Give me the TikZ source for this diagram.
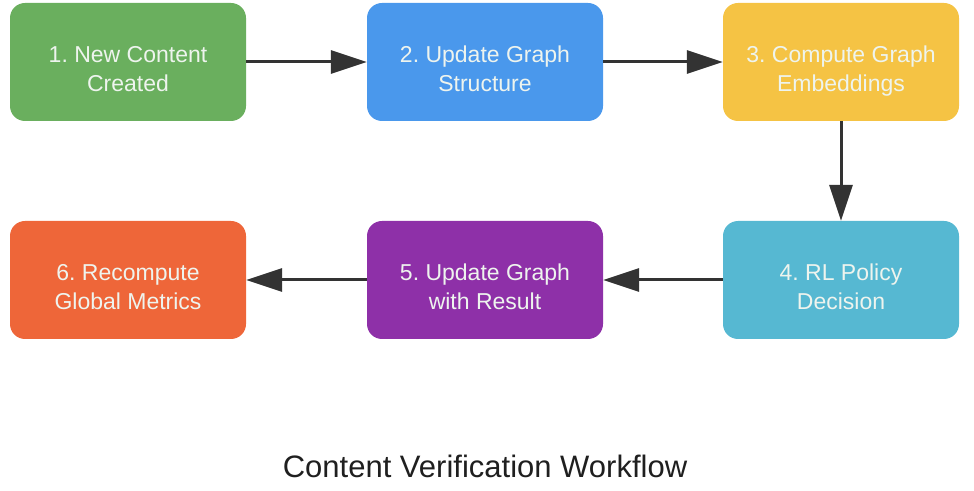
\documentclass[tikz,border=0pt]{standalone}
\usepackage{fontspec}
\setmainfont{Liberation Sans}
\usetikzlibrary{arrows.meta}
\frenchspacing
\definecolor{cgreen}{HTML}{6AAF5E}
\definecolor{cblue}{HTML}{4A98EC}
\definecolor{cyellow}{HTML}{F5C344}
\definecolor{ccyan}{HTML}{56B8D2}
\definecolor{cpurple}{HTML}{8E30A8}
\definecolor{corange}{HTML}{EE6639}
\definecolor{carrow}{HTML}{333333}
\definecolor{ctext}{HTML}{EEF4EE}
\begin{document}
\begin{tikzpicture}[x=1pt,y=1pt,
  stepbox/.style={rectangle, rounded corners=15pt, minimum width=236pt, minimum height=118pt, inner sep=0pt, draw=none},
  steplabel/.style={text=ctext, align=center, font=\fontsize{23}{29}\selectfont, inner sep=0pt,
    execute at begin node=\strut, execute at end node=\strut},
  flow/.style={draw=carrow, line width=3pt, -{Triangle[length=36pt,width=23pt]}}]
\useasboundingbox (0,0) rectangle (974,490);
\node[stepbox, fill=cgreen]  (b1) at (128,428) {};
\node[stepbox, fill=cblue]   (b2) at (485,428) {};
\node[stepbox, fill=cyellow] (b3) at (841,428) {};
\node[stepbox, fill=ccyan]   (b4) at (841,210) {};
\node[stepbox, fill=cpurple] (b5) at (485,210) {};
\node[stepbox, fill=corange] (b6) at (128,210) {};
\node[steplabel] (t1) at ([yshift=-11.5pt]b1.center) {1. New Content\\Created};
\node[steplabel] (t2) at ([yshift=-11.5pt]b2.center) {2. Update Graph\\Structure};
\node[steplabel] (t3) at ([yshift=-11.5pt]b3.center) {3. Compute Graph\\Embeddings};
\node[steplabel] (t4) at ([yshift=-11.5pt]b4.center) {4. RL Policy\\Decision};
\node[steplabel] (t5) at ([yshift=-11.5pt]b5.center) {5. Update Graph\\with Result};
\node[steplabel] (t6) at ([yshift=-11.5pt]b6.center) {6. Recompute\\Global Metrics};
\draw[flow] (b1) -- (b2);
\draw[flow] (b2) -- (b3);
\draw[flow] (b3) -- (b4);
\draw[flow] (b4) -- (b5);
\draw[flow] (b5) -- (b6);
\node[font=\fontsize{31}{36}\selectfont, text=black!88, inner sep=0pt] (title) at (485,24) {Content Verification Workflow};
\end{tikzpicture}
\end{document}
